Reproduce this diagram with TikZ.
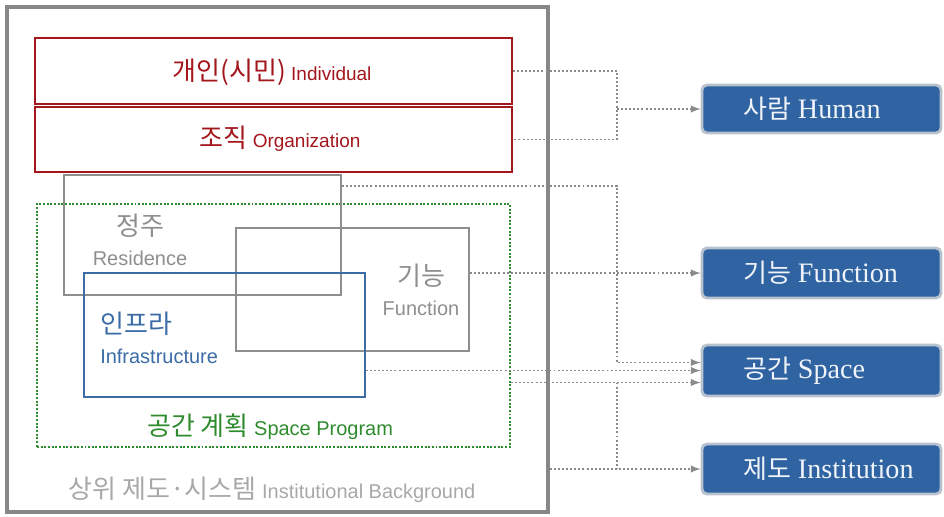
\documentclass[tikz,border=0pt]{standalone}
\usepackage{fontspec}
\setmainfont{Liberation Sans}
\newfontfamily\krfont{Noto Sans CJK KR}
\newfontfamily\tilefont{Liberation Serif}
\usetikzlibrary{calc,fit}

\definecolor{framegray}{HTML}{878787}
\definecolor{redline}{HTML}{A3161C}
\definecolor{boxgray}{HTML}{8E8E8E}
\definecolor{infrablue}{HTML}{3B6CA6}
\definecolor{proggreen}{HTML}{2E8B2E}
\definecolor{txtgray}{HTML}{A8A8A8}
\definecolor{tilefill}{HTML}{2F63A1}
\definecolor{tileedge}{HTML}{B7C2CE}
\definecolor{tiletext}{HTML}{F0F4FA}
\definecolor{linkgray}{HTML}{8A8A8A}

% korean words are set a bit larger than the latin ones
\newcommand\hg[1]{{\krfont\fontsize{18.5}{21}\selectfont #1}}
\newcommand\hgt[1]{{\krfont\fontsize{18.5}{21}\selectfont #1}}

\begin{document}
\begin{tikzpicture}[x=0.025cm,y=-0.025cm,
    every node/.style={font=\fontsize{14.2}{21}\selectfont},
    area/.style={draw=#1,line width=1.3pt,inner sep=0pt},
    tag/.style={inner sep=0pt,align=center},
    tile/.style={draw=tileedge,fill=tilefill,line width=2pt,rounded corners=3.5pt,inner sep=0pt,
      label={[anchor=west,xshift=30pt,inner sep=0pt,text=tiletext,font=\tilefont\fontsize{20}{22}\selectfont]west:#1}},
    link/.style={draw=linkgray,line width=1.4pt,dash pattern=on 1.4pt off 1.5pt}]
  \useasboundingbox (0,0) rectangle (944,516);

  % left block
  \node[area=framegray,line width=2.6pt,fit={(7,7) (548,512)}] (bg) {};
  \node[area=redline,fit={(35,38) (512,104)}] (ind) {};
  \node[area=redline,fit={(35,107) (512,172)}] (org) {};
  \node[area=proggreen,line width=1.5pt,dash pattern=on 1.4pt off 1.2pt,fit={(37,204) (510,447)}] (prog) {};
  \node[area=boxgray,fit={(64,175) (341,295)}] (res) {};
  \node[area=boxgray,fit={(236,228) (469,351)}] (fun) {};
  \node[area=infrablue,fit={(84,273) (365,397)}] (infra) {};

  \node[tag,text=redline,font=\fontsize{13.5}{16}\selectfont] (indtxt) at (272,72) {\hg{개인(시민)} Individual};
  \node[tag,text=redline,font=\fontsize{13.5}{16}\selectfont] (orgtxt) at (280,139) {\hg{조직} Organization};
  \node[tag,text=boxgray] (restxt) at (140,240) {\hg{정주}\\Residence};
  \node[tag,text=boxgray] (funtxt) at (421,290) {\hg{기능}\\Function};
  \node[tag,text=infrablue,align=left,anchor=west] (infratxt) at (100,338) {\hg{인프라}\\Infrastructure};
  \node[tag,text=proggreen] (progtxt) at (270,427) {\hg{공간 계획} Space Program};
  \node[tag,text=txtgray] (bgtxt) at (272,490) {\hg{상위 제도·시스템} Institutional Background};

  % right column
  \node[tile={\hgt{사람} Human},fit={(702,85) (941,133)}] (human) {};
  \node[tile={\hgt{기능} Function},fit={(702,248) (941,298)}] (func) {};
  \node[tile={\hgt{공간} Space},fit={(702,345) (941,396)}] (space) {};
  \node[tile={\hgt{제도} Institution},fit={(702,444) (941,494)}] (inst) {};

  % links
  \coordinate (hx) at (617,0);
  \draw[link] (ind.east) -| (hx |- org.east) -- (org.east);
  \draw[link,-latex] (hx |- human.west) -- (human.west);
  \draw[link,-latex] ($(res.north east)+(0,12)$) -| ($(hx |- space.west)+(0,-8)$) -- ($(space.west)+(0,-8)$);
  \draw[link,-latex] (fun.east |- func.west) -- (func.west);
  \draw[link,-latex] (infra.east |- space.west) -- (space.west);
  \draw[link,-latex] ($(prog.east |- space.west)+(0,12)$) -- ($(space.west)+(0,12)$);
  \draw[link] ($(hx |- space.west)+(0,12)$) -- (hx |- inst.west);
  \draw[link,-latex] (bg.east |- inst.west) -- (inst.west);
\end{tikzpicture}
\end{document}
